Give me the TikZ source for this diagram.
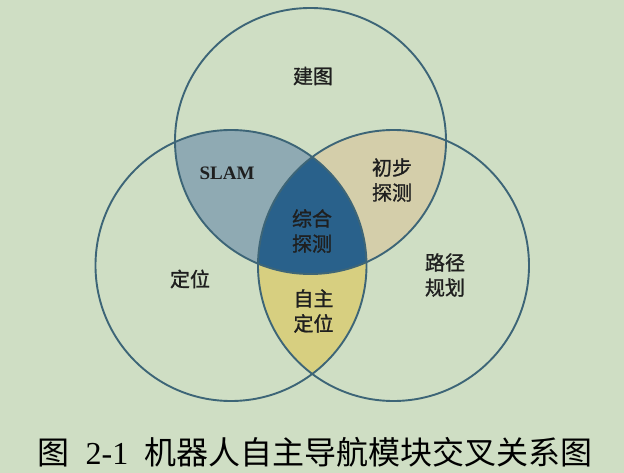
\documentclass[tikz,border=0pt]{standalone}
\usepackage{fontspec}
\setmainfont{Liberation Serif}
\newfontfamily\cjk{Noto Sans CJK SC}
\newfontfamily\cjkb{Noto Sans CJK SC}[FakeBold=1.2]
\usetikzlibrary{calc}

\definecolor{bgcol}{HTML}{CFDEC4}
\definecolor{rimcol}{HTML}{3D6577}
\definecolor{slamcol}{HTML}{8FAAB3}
\definecolor{explcol}{HTML}{D4CEAA}
\definecolor{loccol}{HTML}{D7CF80}
\definecolor{fusecol}{HTML}{29618B}

\newcommand{\ringrx}{135.5pt}
\newcommand{\ringry}{133pt}

\begin{document}
\begin{tikzpicture}[x = 1pt,
                    y = -1pt,
                    color = {black}]
% styles
\tikzset{ring/.style={draw=rimcol,line width=1.9pt},
         lbl/.style={font=\cjkb\fontsize{20}{25}\selectfont,text=black!88,align=center,inner sep=0pt}}
% background
\fill[bgcol] (0,0) rectangle (624,473);
\useasboundingbox (0,0) rectangle (624,473);

% centres
\coordinate (T) at (310.5,141);
\coordinate (L) at (231,265.5);
\coordinate (R) at (393.5,265.5);

% top & left
\begin{scope}
  \clip (T) ellipse [x radius=\ringrx, y radius=\ringry];
  \fill[slamcol] (L) ellipse [x radius=\ringrx, y radius=\ringrx];
\end{scope}
% top & right
\begin{scope}
  \clip (T) ellipse [x radius=\ringrx, y radius=\ringry];
  \fill[explcol] (R) ellipse [x radius=\ringrx, y radius=\ringrx];
\end{scope}
% left & right
\begin{scope}
  \clip (L) ellipse [x radius=\ringrx, y radius=\ringrx];
  \fill[loccol] (R) ellipse [x radius=\ringrx, y radius=\ringrx];
\end{scope}
% all three
\begin{scope}
  \clip (T) ellipse [x radius=\ringrx, y radius=\ringry];
  \clip (L) ellipse [x radius=\ringrx, y radius=\ringrx];
  \fill[fusecol] (R) ellipse [x radius=\ringrx, y radius=\ringrx];
\end{scope}

% rings
\draw[ring] (T) ellipse [x radius=\ringrx, y radius=\ringry];
\draw[ring] (L) ellipse [x radius=\ringrx, y radius=\ringrx];
\draw[ring] (R) ellipse [x radius=\ringrx, y radius=\ringrx];

% labels
\node[lbl] (map) at (313,76) {建图};
\node[lbl,font=\bfseries\fontsize{19}{23}\selectfont] (slam) at (227,173) {SLAM};
\node[lbl] (explore) at (392,180) {初步\\探测};
\node[lbl] (fuse) at (312,231) {综合\\探测};
\node[lbl] (locate) at (190,279) {定位};
\node[lbl] (path) at (445,275) {路径\\规划};
\node[lbl] (selfloc) at (313.5,311) {自主\\定位};

% caption
\node[font=\cjk\fontsize{32}{37}\selectfont,inner sep=0pt] (caption) at (315,452)
  {图\hspace{0.5em}{\rmfamily 2-1}\hspace{0.5em}机器人自主导航模块交叉关系图};
\end{tikzpicture}
\end{document}
